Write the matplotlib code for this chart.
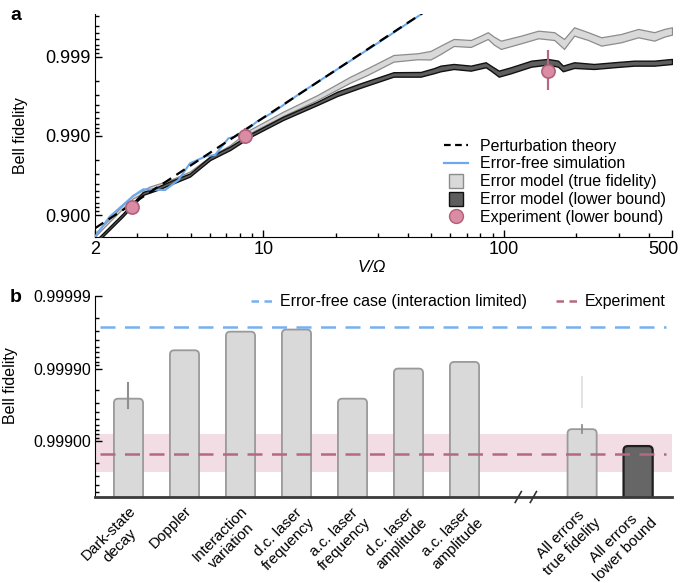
import numpy as np
import matplotlib
matplotlib.use("Agg")
import matplotlib.pyplot as plt
from matplotlib.lines import Line2D
from matplotlib.patches import FancyBboxPatch, BoxStyle
from matplotlib.ticker import FixedLocator, NullFormatter
from matplotlib.transforms import ScaledTranslation

plt.rcParams["font.family"] = ["Liberation Sans", "DejaVu Sans"]

# ---------------- panel a: fidelity versus V/Omega ----------------
pt_v = [2, 5, 10, 20, 50]
pt_fid = [0.853, 0.97645, 0.99411, 0.998528, 0.999765]

sim_v = [2.0, 2.3, 2.88, 3.17, 3.91, 4.44, 4.96, 5.82, 6.31, 7.17, 7.64,
         8.55, 9.41, 11.0, 14.3, 31.6, 49.6]
sim_fid = [0.8116, 0.8948, 0.9425, 0.9527, 0.9517, 0.9639, 0.9778, 0.9821,
           0.9826, 0.9893, 0.9898, 0.99161, 0.99341, 0.99500, 0.99714,
           0.99940, 0.99976]

true_v = [2.0, 2.30, 2.87, 3.38, 4.10, 4.96, 6.02, 7.29, 8.83, 12.1, 16.8,
          23.0, 27.1, 34.8, 43.8, 49.6, 54.6, 61.9, 72.9, 80.2, 85.8, 90.9,
          97.2, 118, 139, 162, 178, 196, 224, 254, 307, 362, 422, 464, 500]
true_hi = [0.8286, 0.8893, 0.9442, 0.9564, 0.9639, 0.9719, 0.98184, 0.9870,
           0.99172, 0.99508, 0.99697, 0.998225, 0.998610, 0.999056, 0.999102,
           0.999161, 0.999281, 0.999408, 0.999390, 0.999463, 0.999514,
           0.999447, 0.999378, 0.999463, 0.999535, 0.999514, 0.999408,
           0.999579, 0.999514, 0.999436, 0.999488, 0.999558, 0.999514,
           0.999558, 0.999579]
true_lo = [0.813, 0.8792, 0.9382, 0.9517, 0.9601, 0.9688, 0.9799, 0.98561,
           0.99084, 0.99442, 0.99650, 0.997887, 0.998310, 0.998854, 0.998931,
           0.998924, 0.999084, 0.999274, 0.999253, 0.999348, 0.999408,
           0.999302, 0.999208, 0.999329, 0.999420, 0.999390, 0.999208,
           0.999463, 0.999390, 0.999281, 0.999348, 0.999436, 0.999378,
           0.999447, 0.999478]

lb_v = [2.0, 2.61, 3.16, 3.62, 4.22, 4.96, 6.02, 7.29, 8.83, 12.1, 16.8,
        20.3, 25.4, 34.8, 45.1, 51.1, 54.6, 61.9, 72.9, 84.1, 88.3, 95.3,
        107, 130, 152, 168, 176, 196, 237, 287, 348, 422, 500]
lb_hi = [0.7866, 0.9043, 0.9488, 0.9558, 0.9639, 0.9702, 0.98184, 0.98642,
         0.99056, 0.99430, 0.99632, 0.99725, 0.99785, 0.99844, 0.998451,
         0.998610, 0.998712, 0.998773, 0.998712, 0.998833, 0.998712,
         0.998510, 0.998651, 0.998886, 0.998941, 0.998886, 0.998712,
         0.998833, 0.998773, 0.998833, 0.998886, 0.998886, 0.998941]
lb_lo = [0.767, 0.8955, 0.9442, 0.9517, 0.9601, 0.9674, 0.9799, 0.98497,
         0.9897, 0.99373, 0.99595, 0.99688, 0.99755, 0.998225, 0.998225,
         0.998392, 0.998483, 0.998581, 0.998510, 0.998651, 0.998510,
         0.998225, 0.998392, 0.998673, 0.998749, 0.998673, 0.998483,
         0.998623, 0.998581, 0.998651, 0.998712, 0.998712, 0.998773]

exp_v = [2.84, 8.41, 152]
exp_fid = [0.9201, 0.990, 0.99851]
exp_hi = [0.9201, 0.99208, 0.99919]
exp_lo = [0.9201, 0.98738, 0.99735]

# ---------------- panel b: error budget ----------------
categories = ["Dark-state\ndecay", "Doppler", "Interaction\nvariation",
              "d.c. laser\nfrequency", "a.c. laser\nfrequency",
              "d.c. laser\namplitude", "a.c. laser\namplitude",
              "All errors\ntrue fidelity", "All errors\nlower bound"]
bar_fid = [0.99974, 0.999944, 0.999969, 0.999971, 0.99974, 0.99990,
           0.999919, 0.999316, 0.99883]
decay_err = [0.999645, 0.99984]
all_true_err = [0.999233, 0.999397]
all_true_spread = [0.999663, 0.99987]
error_free_fid = 0.999973
experiment_fid = 0.99851
experiment_range = [0.99735, 0.99919]

# colours
BLUE = "#6aa9ee"
PINK = "#d98ca3"
PINK_EDGE = "#b0607a"
PINK_LINE = "#b5697f"
LIGHT = "#d9d9d9"
LIGHT_EDGE = "#9a9a9a"
DARK = "#5e5e5e"


def nines(f):
    f = np.asarray(f, dtype=float)
    return -np.log10(np.clip(1.0 - f, 1e-12, None))


def from_nines(n):
    return 1.0 - 10.0 ** (-np.asarray(n, dtype=float))


def minor_fids(decades):
    return [1 - k * 10.0 ** (-m) for m in decades for k in range(2, 10)]


W, H = 680, 583
fig = plt.figure(figsize=(W / 100, H / 100), dpi=100)
axa = fig.add_axes([95 / W, 1 - 237 / H, 577 / W, 223 / H])
axb = fig.add_axes([95 / W, 1 - 497 / H, 577 / W, 201 / H])

# ---- panel a ----
axa.set_xscale("log")
axa.set_yscale("function", functions=(nines, from_nines))
axa.fill_between(true_v, true_lo, true_hi, facecolor=LIGHT,
                 edgecolor="#8c8c8c", lw=0.9, zorder=2)
axa.fill_between(lb_v, lb_lo, lb_hi, facecolor=DARK,
                 edgecolor="#111111", lw=1.0, zorder=3)
axa.plot(sim_v, sim_fid, color=BLUE, lw=1.5, zorder=4)
axa.plot(pt_v, pt_fid, color="black", lw=1.6, dashes=(4.5, 2.8), zorder=5)
exp_fid_a = np.array(exp_fid)
axa.errorbar(exp_v, exp_fid,
             yerr=[exp_fid_a - np.array(exp_lo), np.array(exp_hi) - exp_fid_a],
             fmt="o", ms=9.5, mfc=PINK, mec=PINK_EDGE, mew=1.2,
             ecolor=PINK_LINE, elinewidth=1.6, capsize=0, zorder=6)

axa.set_xlim(2, 500)
axa.set_ylim(0.8103, 0.999714)
axa.set_xticks([2, 10, 100, 500], ["2", "10", "100", "500"])
axa.xaxis.set_minor_locator(FixedLocator(
    [3, 4, 5, 6, 7, 8, 9, 20, 30, 40, 50, 60, 70, 80, 90, 200, 300, 400]))
axa.xaxis.set_minor_formatter(NullFormatter())
axa.set_yticks([0.9, 0.99, 0.999], ["0.900", "0.990", "0.999"])
axa.yaxis.set_minor_locator(FixedLocator(minor_fids([1, 2, 3, 4])))
axa.yaxis.set_minor_formatter(NullFormatter())
axa.tick_params(which="both", direction="in", width=1, labelsize=13, pad=3)
axa.tick_params(which="major", length=5)
axa.tick_params(which="minor", length=3)
for s in ("top", "right"):
    axa.spines[s].set_visible(False)
# keep the last x label inside the canvas
for lbl in axa.get_xticklabels():
    if lbl.get_text() == "500":
        lbl.set_transform(lbl.get_transform()
                          + ScaledTranslation(-6 / 72, 0, fig.dpi_scale_trans))
axa.set_ylabel("Bell fidelity", fontsize=11.5)
axa.yaxis.set_label_coords(-0.116, 0.455)
axa.set_xlabel("V/Ω", fontsize=12, fontstyle="italic")
axa.xaxis.set_label_coords(0.48, -0.105)

handles_a = [
    Line2D([], [], color="black", lw=1.6, dashes=(3.0, 2.0)),
    Line2D([], [], color=BLUE, lw=1.6),
    Line2D([], [], ls="none", marker="s", ms=10, mfc=LIGHT, mec="#8c8c8c"),
    Line2D([], [], ls="none", marker="s", ms=10, mfc=DARK, mec="#111111"),
    Line2D([], [], ls="none", marker="o", ms=10, mfc=PINK, mec=PINK_EDGE),
]
labels_a = ["Perturbation theory", "Error-free simulation",
            "Error model (true fidelity)", "Error model (lower bound)",
            "Experiment (lower bound)"]
axa.legend(handles_a, labels_a, loc="lower right", bbox_to_anchor=(1.0, 0.025),
           frameon=False, fontsize=11.5, handlelength=1.5, handletextpad=0.7,
           labelspacing=0.18, borderpad=0.2, borderaxespad=0.2)

# ---- panel b ----
axb.set_yscale("function", functions=(nines, from_nines))
xpos = list(range(7)) + [8.1, 9.1]
axb.set_xlim(-0.598, 9.705)
axb.set_ylim(0.99411, 0.99999)

axb.axhspan(experiment_range[0], experiment_range[1], color="#f3dde4",
            lw=0, zorder=0.5)
base = 0.99
bar_colors = [LIGHT] * 8 + ["#666666"]
edge_colors = [LIGHT_EDGE] * 8 + ["#1e1e1e"]
edge_widths = [1.3] * 8 + [1.6]
bars = axb.bar(xpos, np.array(bar_fid) - base, bottom=base, width=0.52,
               color=bar_colors, zorder=2)

# replace each rectangle by a round-cornered box of the same extent
to_axes = axb.transAxes.inverted()
aspect = (577 / 201)
for rect, fc, ec, lw in zip(bars, bar_colors, edge_colors, edge_widths):
    x0, y0 = rect.get_x(), rect.get_y()
    x1, y1 = x0 + rect.get_width(), y0 + rect.get_height()
    (ax0, ay0) = to_axes.transform(axb.transData.transform((x0, y0)))
    (ax1, ay1) = to_axes.transform(axb.transData.transform((x1, y1)))
    box = FancyBboxPatch((ax0, ay0), ax1 - ax0, ay1 - ay0,
                         boxstyle=BoxStyle.Round(pad=0, rounding_size=0.0075),
                         mutation_aspect=aspect, transform=axb.transAxes,
                         facecolor=fc, edgecolor=ec, lw=lw, zorder=2)
    axb.add_patch(box)
    rect.set_visible(False)

axb.plot([xpos[0]] * 2, decay_err, color="#8f8f8f", lw=1.5, zorder=3)
axb.plot([xpos[7]] * 2, all_true_err, color="#8f8f8f", lw=1.3, zorder=3)
axb.plot([xpos[7]] * 2, all_true_spread, color="#dedede", lw=1.2, zorder=3)

axb.axhline(error_free_fid, xmin=0.008, xmax=0.99, color="#78b0ef", lw=1.8,
            dashes=(6.0, 3.8), zorder=3)
axb.axhline(experiment_fid, xmin=0.008, xmax=0.99, color=PINK_LINE, lw=1.8,
            dashes=(6.0, 3.8), zorder=3)

axb.set_xticks(xpos)
axb.set_xticklabels(categories, rotation=45, ha="right", va="top",
                    rotation_mode="anchor", multialignment="center",
                    fontsize=11)
axb.tick_params(axis="x", length=0, pad=5)
axb.set_yticks([0.999, 0.9999, 0.99999], ["0.99900", "0.99990", "0.99999"])
axb.yaxis.set_minor_locator(FixedLocator(minor_fids([3, 4, 5])))
axb.yaxis.set_minor_formatter(NullFormatter())
axb.tick_params(axis="y", which="both", direction="in", width=1,
                labelsize=11.5, pad=3)
axb.tick_params(axis="y", which="major", length=5)
axb.tick_params(axis="y", which="minor", length=3)
for s in ("top", "right"):
    axb.spines[s].set_visible(False)
axb.spines["bottom"].set_color("#3a3a3a")
axb.spines["bottom"].set_linewidth(2)
axb.set_ylabel("Bell fidelity", fontsize=11.5)
axb.yaxis.set_label_coords(-0.1326, 0.554)

# axis break marks
xt = axb.get_xaxis_transform()
for xc in (6.96, 7.23):
    axb.plot([xc - 0.055, xc + 0.055], [-0.027, 0.027], color="#333333",
             lw=1.2, transform=xt, clip_on=False, zorder=5)

handles_b = [Line2D([], [], color="#78b0ef", lw=1.8, dashes=(3.0, 2.2)),
             Line2D([], [], color=PINK_LINE, lw=1.8, dashes=(3.0, 2.2))]
axb.legend(handles_b, ["Error-free case (interaction limited)", "Experiment"],
           loc="upper right", bbox_to_anchor=(1.0, 1.04), ncol=2,
           frameon=False, fontsize=11.5, handlelength=1.3, handletextpad=0.5,
           columnspacing=1.8, borderpad=0.2, borderaxespad=0.2)

fig.text(16 / W, 1 - 15 / H, "a", fontsize=14, fontweight="bold",
         ha="center", va="center")
fig.text(16 / W, 1 - 297 / H, "b", fontsize=14, fontweight="bold",
         ha="center", va="center")

fig.savefig("out.png", dpi=100)
